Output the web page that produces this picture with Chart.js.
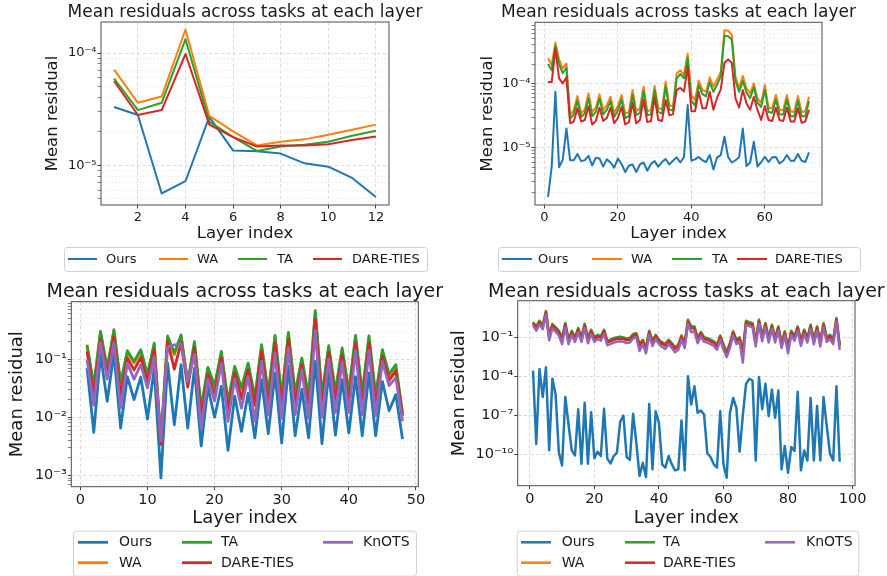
<!DOCTYPE html>
<html>
<head>
<meta charset="utf-8">
<script src="https://cdn.jsdelivr.net/npm/chart.js@4.4.1/dist/chart.umd.min.js"></script>
<style>
  html, body { margin: 0; padding: 0; background: #fff; }
  #wrap { position: relative; width: 887px; height: 576px; overflow: hidden; }
  canvas { position: absolute; }
</style>
</head>
<body>
<div id="wrap">
  <canvas id="c1" width="443" height="280" style="left:0;top:0"></canvas>
  <canvas id="c2" width="444" height="280" style="left:443px;top:0"></canvas>
  <canvas id="c3" width="443" height="296" style="left:0;top:280px"></canvas>
  <canvas id="c4" width="444" height="296" style="left:443px;top:280px"></canvas>
</div>
<script>
function range(a, b) { const out = []; for (let i = a; i <= b; i++) out.push(i); return out; }

// ---- panel 1 (12 layers) ----
const p1Layers = range(1, 12);
const p1Ours = [3.3e-5, 2.8e-5, 5.6e-6, 7.2e-6, 2.7e-5, 1.35e-5, 1.33e-5, 1.27e-5, 1.04e-5, 9.7e-6, 7.7e-6, 5.2e-6];
const p1WA   = [7.1e-5, 3.6e-5, 4.1e-5, 1.62e-4, 2.75e-5, 2.0e-5, 1.5e-5, 1.62e-5, 1.7e-5, 1.87e-5, 2.07e-5, 2.3e-5];
const p1TA   = [5.9e-5, 3.1e-5, 3.6e-5, 1.33e-4, 2.45e-5, 1.78e-5, 1.34e-5, 1.47e-5, 1.52e-5, 1.62e-5, 1.83e-5, 2.03e-5];
const p1Dare = [5.6e-5, 2.8e-5, 3.1e-5, 9.8e-5, 2.3e-5, 1.78e-5, 1.47e-5, 1.5e-5, 1.5e-5, 1.54e-5, 1.68e-5, 1.8e-5];
const p1XTicks = [2, 4, 6, 8, 10, 12];
const p1YTicks = [1e-5, 1e-4];
const p1YLabels = ['10⁻⁵', '10⁻⁴'];

// ---- panel 2 (72 layers) ----
const p2Layers = range(1, 72);
const p2Ours = [
  1.73e-6, 5.1e-6, 7.4e-5, 5.0e-6, 6.5e-6, 2.0e-5, 6.4e-6, 6.4e-6, 8.0e-6, 6.2e-6,
  6.4e-6, 7.5e-6, 5.3e-6, 7.0e-6, 6.8e-6, 5.1e-6, 6.6e-6, 5.9e-6, 4.9e-6, 6.8e-6,
  5.6e-6, 4.2e-6, 5.3e-6, 5.5e-6, 4.2e-6, 5.5e-6, 5.9e-6, 4.4e-6, 5.6e-6, 6.2e-6,
  5.1e-6, 6.0e-6, 6.7e-6, 5.5e-6, 6.3e-6, 7.1e-6, 5.9e-6, 7.2e-6, 4.6e-5, 6.3e-6,
  6.6e-6, 7.2e-6, 6.4e-6, 6.0e-6, 7.7e-6, 4.6e-6, 7.1e-6, 7.7e-6, 1.48e-5, 7.2e-6,
  5.9e-6, 6.4e-6, 7.1e-6, 2.0e-5, 5.2e-6, 5.9e-6, 1.24e-5, 5.1e-6, 6.0e-6, 7.2e-6,
  6.0e-6, 7.1e-6, 7.2e-6, 5.7e-6, 6.3e-6, 7.7e-6, 6.3e-6, 6.3e-6, 8.0e-6, 6.3e-6,
  6.0e-6, 8.5e-6];
const p2WA = [
  2.45e-4, 1.93e-4, 4.3e-4, 2.36e-4, 1.71e-4, 2.04e-4, 3.2e-5, 3.85e-5, 6.35e-5, 3.4e-5,
  3.9e-5, 7.0e-5, 3.6e-5, 4.2e-5, 6.8e-5, 3.85e-5, 4.6e-5, 6.2e-5, 3.5e-5, 4.45e-5,
  6.6e-5, 3.4e-5, 3.6e-5, 7.9e-5, 3.7e-5, 4.1e-5, 8.9e-5, 3.7e-5, 3.85e-5, 9.1e-5,
  4.2e-5, 3.9e-5, 1.06e-4, 4.6e-5, 4.4e-5, 1.43e-4, 1.6e-4, 1.35e-4, 2.9e-4, 6.6e-5,
  5.5e-5, 1.1e-4, 7.9e-5, 7.4e-5, 1.24e-4, 8.9e-5, 1.15e-4, 1.5e-4, 6.7e-4, 6.6e-4,
  5.6e-4, 1.27e-4, 8.4e-5, 1.3e-4, 8.4e-5, 7.0e-5, 1.0e-4, 5.85e-5, 5.0e-5, 9.4e-5,
  4.2e-5, 4.1e-5, 6.6e-5, 3.9e-5, 3.85e-5, 6.6e-5, 3.7e-5, 3.6e-5, 6.4e-5, 3.6e-5,
  3.7e-5, 6.2e-5];
const p2TA = [
  2.0e-4, 1.6e-4, 3.8e-4, 2.0e-4, 1.45e-4, 1.75e-4, 2.8e-5, 3.3e-5, 5.4e-5, 3.0e-5,
  3.4e-5, 5.9e-5, 3.1e-5, 3.6e-5, 5.8e-5, 3.3e-5, 3.9e-5, 5.3e-5, 3.0e-5, 3.8e-5,
  5.6e-5, 2.9e-5, 3.1e-5, 6.7e-5, 3.2e-5, 3.5e-5, 7.6e-5, 3.2e-5, 3.3e-5, 7.8e-5,
  3.6e-5, 3.4e-5, 9.0e-5, 3.9e-5, 3.8e-5, 1.2e-4, 1.4e-4, 1.2e-4, 2.5e-4, 5.4e-5,
  4.5e-5, 9.5e-5, 6.8e-5, 6.3e-5, 1.05e-4, 7.4e-5, 9.5e-5, 1.3e-4, 5.5e-4, 5.4e-4,
  4.8e-4, 1.1e-4, 7.4e-5, 1.1e-4, 7.2e-5, 5.9e-5, 8.7e-5, 5.0e-5, 4.3e-5, 8.0e-5,
  3.6e-5, 3.5e-5, 5.6e-5, 3.3e-5, 3.3e-5, 5.6e-5, 3.1e-5, 3.1e-5, 5.4e-5, 3.1e-5,
  3.1e-5, 5.3e-5];
const p2Dare = [
  1.05e-4, 1.05e-4, 3.5e-4, 1.2e-4, 1.0e-4, 1.25e-4, 2.4e-5, 2.55e-5, 4.1e-5, 2.55e-5,
  2.7e-5, 4.4e-5, 2.3e-5, 2.6e-5, 4.2e-5, 2.6e-5, 2.9e-5, 4.2e-5, 2.4e-5, 2.9e-5,
  4.3e-5, 2.3e-5, 2.5e-5, 5.0e-5, 2.4e-5, 2.7e-5, 5.5e-5, 2.5e-5, 2.6e-5, 6.0e-5,
  2.7e-5, 2.6e-5, 5.5e-5, 3.2e-5, 3.3e-5, 7.9e-5, 8.5e-5, 7.5e-5, 1.8e-4, 3.7e-5,
  3.7e-5, 7.4e-5, 4.1e-5, 4.1e-5, 7.4e-5, 3.9e-5, 6.0e-5, 8.1e-5, 2.1e-4, 2.36e-4,
  2.1e-4, 5.85e-5, 4.2e-5, 7.9e-5, 4.9e-5, 3.9e-5, 6.2e-5, 3.85e-5, 2.7e-5, 4.45e-5,
  2.7e-5, 2.6e-5, 4.2e-5, 2.7e-5, 2.6e-5, 4.2e-5, 2.55e-5, 2.55e-5, 4.1e-5, 2.45e-5,
  2.55e-5, 3.9e-5];
const p2XTicks = [0, 20, 40, 60];
const p2YTicks = [1e-5, 1e-4];
const p2YLabels = ['10⁻⁵', '10⁻⁴'];

// ---- panel 3 (48 layers) ----
const p3Layers = range(1, 48);
const p3Ours = [
  0.070, 0.0055, 0.119, 0.0187, 0.127, 0.0065, 0.050, 0.020, 0.049, 0.0093,
  0.068, 0.0009, 0.085, 0.0074, 0.080, 0.0065, 0.070, 0.0032, 0.0326, 0.010,
  0.034, 0.0027, 0.023, 0.0057, 0.026, 0.0044, 0.044, 0.0052, 0.057, 0.0036,
  0.075, 0.0048, 0.030, 0.0044, 0.091, 0.0035, 0.061, 0.0049, 0.044, 0.0054,
  0.050, 0.0048, 0.057, 0.0048, 0.041, 0.0129, 0.0244, 0.0042];
const p3WA = [
  0.165, 0.032, 0.28, 0.066, 0.30, 0.036, 0.13, 0.085, 0.135, 0.05,
  0.175, 0.0037, 0.235, 0.118, 0.245, 0.036, 0.185, 0.0135, 0.067, 0.032,
  0.126, 0.0175, 0.07, 0.03, 0.079, 0.0205, 0.165, 0.024, 0.238, 0.0215,
  0.27, 0.024, 0.097, 0.0215, 0.63, 0.0225, 0.158, 0.026, 0.145, 0.026,
  0.238, 0.024, 0.233, 0.0225, 0.135, 0.047, 0.068, 0.011];
const p3TA = [
  0.176, 0.035, 0.30, 0.070, 0.32, 0.039, 0.139, 0.091, 0.145, 0.054,
  0.188, 0.0039, 0.25, 0.127, 0.26, 0.039, 0.20, 0.0145, 0.072, 0.035,
  0.135, 0.0187, 0.075, 0.032, 0.085, 0.022, 0.176, 0.026, 0.255, 0.023,
  0.288, 0.026, 0.104, 0.023, 0.676, 0.024, 0.17, 0.028, 0.155, 0.028,
  0.255, 0.026, 0.25, 0.024, 0.145, 0.055, 0.08, 0.0118];
const p3Dare = [
  0.135, 0.023, 0.225, 0.055, 0.24, 0.023, 0.104, 0.065, 0.107, 0.041,
  0.145, 0.0034, 0.20, 0.067, 0.19, 0.033, 0.155, 0.0097, 0.055, 0.024,
  0.105, 0.0126, 0.057, 0.021, 0.065, 0.016, 0.135, 0.016, 0.19, 0.014,
  0.22, 0.016, 0.08, 0.014, 0.48, 0.015, 0.13, 0.018, 0.118, 0.018,
  0.19, 0.016, 0.19, 0.015, 0.11, 0.043, 0.062, 0.0105];
const p3Knots = [
  0.097, 0.016, 0.19, 0.045, 0.19, 0.0145, 0.085, 0.045, 0.08, 0.032,
  0.11, 0.004, 0.16, 0.175, 0.18, 0.041, 0.12, 0.0065, 0.045, 0.019,
  0.085, 0.0085, 0.045, 0.0143, 0.05, 0.0085, 0.091, 0.011, 0.127, 0.0095,
  0.155, 0.011, 0.065, 0.0095, 0.31, 0.01, 0.10, 0.012, 0.09, 0.012,
  0.14, 0.011, 0.14, 0.0105, 0.09, 0.035, 0.048, 0.0085];
const p3XTicks = [0, 10, 20, 30, 40, 50];
const p3YTicks = [1e-3, 1e-2, 1e-1];
const p3YLabels = ['10⁻³', '10⁻²', '10⁻¹'];

// ---- panel 4 (96 layers) ----
const p4Layers = range(1, 96);
const p4Ours = [
  2.7e-4, 6e-10, 3.6e-4, 2.5e-6, 4.9e-4, 2e-10, 6.3e-5, 3.9e-6, 1.3e-10, 1.3e-11,
  2.5e-6, 1.9e-8, 1.9e-10, 7.9e-11, 2.8e-7, 1.8e-11, 8.9e-7, 1.8e-11, 1.7e-7, 4.7e-11,
  1.5e-10, 7e-11, 3.1e-7, 4.4e-11, 1.9e-11, 7e-11, 1.3e-10, 3.1e-8, 9.3e-8, 5.9e-11,
  3.5e-11, 1.26e-7, 7.4e-10, 2e-12, 2.1e-11, 1.7e-12, 7.4e-7, 6.6e-12, 2e-7, 2.6e-8,
  1.6e-11, 8.9e-12, 7e-11, 1.6e-11, 5.5e-12, 6.6e-12, 3.9e-8, 5.5e-12, 1e-4, 6.6e-7,
  1.7e-5, 1.5e-7, 2.3e-7, 1.1e-7, 1.1e-10, 5.9e-11, 1.6e-11, 8.9e-12, 2e-7, 1.6e-11,
  1.5e-12, 1.5e-7, 2.1e-6, 3.6e-7, 1.5e-10, 1e-7, 2.6e-5, 6.3e-5, 4.7e-5, 3.2e-11,
  8.9e-5, 2.8e-7, 2.6e-5, 8.3e-8, 9.3e-6, 6.3e-8, 7.9e-6, 6.6e-12, 4.2e-10, 3.6e-12,
  3.5e-10, 1.7e-10, 6.3e-6, 5.5e-12, 1.9e-10, 3.2e-11, 2.1e-6, 3.2e-11, 5e-7, 3.2e-11,
  2.5e-6, 1.4e-8, 1.1e-10, 3.2e-11, 1.7e-5, 2.6e-11];
const p4WA = [
  1.45, 0.67, 1.8, 0.8, 10.5, 0.13, 1.02, 0.56, 0.3, 0.085,
  1.2, 0.063, 0.3, 0.095, 0.5, 0.095, 1.05, 0.085, 0.37, 0.095,
  0.15, 0.115, 0.37, 0.052, 0.063, 0.085, 0.095, 0.105, 0.095, 0.076,
  0.085, 0.17, 0.2, 0.026, 0.063, 0.014, 0.3, 0.052, 0.15, 0.063,
  0.039, 0.029, 0.063, 0.034, 0.016, 0.026, 0.13, 0.034, 2.2, 0.67,
  0.67, 0.085, 0.25, 0.095, 0.085, 0.063, 0.048, 0.026, 0.13, 0.026,
  0.007, 0.034, 0.28, 0.063, 0.095, 0.0079, 1.8, 1.45, 1.2, 0.048,
  2.2, 0.115, 1.2, 0.085, 0.9, 0.085, 0.67, 0.034, 0.28, 0.014,
  0.3, 0.115, 0.67, 0.052, 0.37, 0.085, 0.9, 0.063, 0.67, 0.048,
  1.2, 0.095, 0.15, 0.063, 2.95, 0.026];
const p4TA = [
  1.5, 0.7, 1.9, 0.84, 11, 0.14, 1.07, 0.59, 0.32, 0.089,
  1.26, 0.066, 0.32, 0.1, 0.52, 0.1, 1.1, 0.089, 0.39, 0.1,
  0.16, 0.12, 0.39, 0.055, 0.066, 0.089, 0.1, 0.11, 0.1, 0.08,
  0.089, 0.18, 0.21, 0.027, 0.066, 0.015, 0.32, 0.055, 0.16, 0.066,
  0.041, 0.031, 0.066, 0.036, 0.017, 0.027, 0.14, 0.036, 2.3, 0.7,
  0.7, 0.089, 0.26, 0.1, 0.089, 0.066, 0.05, 0.027, 0.14, 0.027,
  0.0074, 0.036, 0.29, 0.066, 0.1, 0.0083, 1.9, 1.5, 1.26, 0.05,
  2.3, 0.12, 1.26, 0.089, 0.95, 0.089, 0.7, 0.036, 0.29, 0.015,
  0.32, 0.12, 0.7, 0.055, 0.39, 0.089, 0.95, 0.066, 0.7, 0.05,
  1.26, 0.1, 0.16, 0.066, 3.1, 0.027];
const p4Dare = [
  1.15, 0.53, 1.45, 0.64, 8.0, 0.105, 0.8, 0.44, 0.24, 0.066,
  0.95, 0.05, 0.24, 0.075, 0.39, 0.075, 0.83, 0.066, 0.29, 0.075,
  0.12, 0.09, 0.29, 0.041, 0.05, 0.066, 0.075, 0.083, 0.075, 0.06,
  0.066, 0.135, 0.16, 0.02, 0.05, 0.011, 0.24, 0.041, 0.12, 0.05,
  0.031, 0.023, 0.05, 0.027, 0.013, 0.02, 0.105, 0.027, 1.7, 0.5,
  0.5, 0.066, 0.2, 0.075, 0.066, 0.05, 0.037, 0.02, 0.105, 0.02,
  0.0055, 0.027, 0.22, 0.05, 0.075, 0.006, 1.4, 1.1, 0.95, 0.037,
  1.7, 0.09, 0.95, 0.066, 0.7, 0.066, 0.53, 0.027, 0.22, 0.011,
  0.24, 0.09, 0.53, 0.041, 0.29, 0.066, 0.7, 0.05, 0.53, 0.037,
  0.95, 0.075, 0.12, 0.05, 2.3, 0.02];
const p4Knots = [
  0.8, 0.33, 1.0, 0.42, 5.5, 0.06, 0.5, 0.28, 0.14, 0.03,
  0.6, 0.03, 0.15, 0.045, 0.24, 0.045, 0.52, 0.035, 0.18, 0.045,
  0.075, 0.055, 0.18, 0.025, 0.03, 0.04, 0.045, 0.05, 0.045, 0.036,
  0.04, 0.085, 0.1, 0.009, 0.03, 0.006, 0.15, 0.022, 0.075, 0.03,
  0.018, 0.013, 0.03, 0.015, 0.007, 0.011, 0.065, 0.015, 1.1, 0.25,
  0.3, 0.035, 0.12, 0.045, 0.04, 0.03, 0.022, 0.011, 0.065, 0.011,
  0.003, 0.015, 0.14, 0.03, 0.045, 0.0011, 0.9, 0.75, 0.6, 0.02,
  1.1, 0.05, 0.6, 0.04, 0.45, 0.04, 0.33, 0.015, 0.14, 0.006,
  0.15, 0.055, 0.33, 0.022, 0.18, 0.04, 0.45, 0.03, 0.33, 0.02,
  0.6, 0.045, 0.075, 0.03, 1.6, 0.011];
const p4XTicks = [0, 20, 40, 60, 80, 100];
const p4YTicks = [1e-10, 1e-7, 1e-4, 1e-1];
const p4YLabels = ['10⁻¹⁰', '10⁻⁷', '10⁻⁴', '10⁻¹'];

const TITLE = 'Mean residuals across tasks at each layer';
const TEXT = '#1a1a1a';
const C_OURS = '#1f77b4', C_WA = '#ff7f0e', C_TA = '#2ca02c', C_DARE = '#d62728', C_KNOTS = '#9467bd';
const FONT = "'DejaVu Sans', sans-serif";

Chart.defaults.font.family = FONT;
Chart.defaults.color = TEXT;

// title, frame and matplotlib-style legend
const decor = {
  id: 'decor',
  afterDraw(chart, args, o) {
    const {ctx, chartArea: a} = chart;
    ctx.save();
    ctx.strokeStyle = '#4d4d4d';
    ctx.lineWidth = 1;
    ctx.strokeRect(a.left, a.top, a.right - a.left, a.bottom - a.top);

    ctx.fillStyle = TEXT;
    ctx.font = o.titleSize + 'px ' + FONT;
    ctx.textAlign = 'center';
    ctx.textBaseline = 'alphabetic';
    ctx.fillText(TITLE, (a.left + a.right) / 2, o.titleBase);

    const lg = o.legend;
    const [bx, by, bw, bh] = lg.box;
    ctx.beginPath();
    ctx.roundRect(bx + 0.5, by + 0.5, bw, bh, 3);
    ctx.fillStyle = 'rgba(255,255,255,0.85)';
    ctx.fill();
    ctx.strokeStyle = '#d0d0d0';
    ctx.lineWidth = 1;
    ctx.stroke();
    ctx.font = lg.size + 'px ' + FONT;
    ctx.textAlign = 'left';
    ctx.textBaseline = 'middle';
    chart.data.datasets.forEach((ds, i) => {
      const col = Math.floor(i / lg.rows.length), row = i % lg.rows.length;
      const [lx, tx] = lg.cols[col];
      const y = lg.rows[row];
      ctx.strokeStyle = ds.borderColor;
      ctx.lineWidth = ds.borderWidth;
      ctx.beginPath();
      ctx.moveTo(lx, y);
      ctx.lineTo(lx + lg.lineLen, y);
      ctx.stroke();
      ctx.fillStyle = TEXT;
      ctx.fillText(ds.label, tx, y + 0.5);
    });
    ctx.restore();
  }
};

function yTickList(min, max, majors, labels, minor) {
  const out = majors.map((v, i) => ({value: v, major: true, text: labels[i]}));
  if (minor) {
    for (let e = Math.floor(Math.log10(min)); e <= Math.ceil(Math.log10(max)); e++) {
      for (let k = 2; k <= 9; k++) {
        const v = k * Math.pow(10, e);
        if (v >= min && v <= max) out.push({value: v, major: false, text: ''});
      }
    }
  }
  return out.filter(t => t.value >= min && t.value <= max).sort((p, q) => p.value - q.value);
}

function makePanel(id, g) {
  const canvas = document.getElementById(id);
  const W = canvas.width, H = canvas.height;
  const xTitleLh = g.labelSize * 1.2;
  const xBottom = g.xTitleY + xTitleLh / 2;
  const yt = yTickList(g.yMin, g.yMax, g.yTicks, g.yLabels, g.minor);
  const orders = [4, 3, 2, 1, 0];

  const datasets = g.series.map((s, i) => ({
    label: s.label,
    data: g.layers.map((x, j) => ({x: x, y: s.data[j]})),
    borderColor: s.color,
    borderWidth: g.lineWidth,
    pointRadius: 0,
    tension: 0,
    borderJoinStyle: 'round',
    order: orders[i]
  }));

  return new Chart(canvas, {
    type: 'line',
    data: {datasets},
    plugins: [decor],
    options: {
      responsive: false,
      animation: false,
      devicePixelRatio: 1,
      layout: {padding: {left: 0, top: g.plot.t, right: W - g.plot.r, bottom: H - xBottom}},
      plugins: {
        legend: {display: false},
        title: {display: false},
        tooltip: {enabled: false},
        decor: {titleSize: g.titleSize, titleBase: g.titleBase, legend: g.legend}
      },
      scales: {
        x: {
          type: 'linear',
          min: g.xMin, max: g.xMax, bounds: 'data',
          afterBuildTicks: s => { s.ticks = g.xTicks.map(v => ({value: v, major: true})); },
          afterFit: s => { s.height = xBottom - g.plot.b; },
          ticks: {autoSkip: false, maxRotation: 0, padding: 1, color: TEXT, font: {size: g.tickSize}},
          grid: {color: '#d2d2d2', lineWidth: 0.8, tickLength: 3.5, tickColor: '#333', tickWidth: 0.9},
          border: {display: false, dash: [3.5, 2.5]},
          title: {display: true, text: 'Layer index', color: TEXT, font: {size: g.labelSize}, padding: 0}
        },
        y: {
          type: 'logarithmic',
          min: g.yMin, max: g.yMax, bounds: 'data',
          afterBuildTicks: s => { s.ticks = yt.map(t => Object.assign({}, t)); },
          afterFit: s => { s.width = g.plot.l; },
          ticks: {autoSkip: false, padding: 1, color: TEXT, font: {size: g.tickSize},
                  callback: (v, i, t) => t[i].text},
          grid: {
            color: c => (c.tick && c.tick.major) ? '#d2d2d2' : '#e9e9e9',
            lineWidth: 0.8, tickLength: 3.5, tickColor: '#333',
            tickWidth: c => (c.tick && c.tick.major) ? 0.9 : 0.6
          },
          border: {display: false, dash: c => (c.tick && c.tick.major) ? [3.5, 2.5] : [1.5, 2]},
          title: {display: true, text: 'Mean residual', color: TEXT, font: {size: g.labelSize},
                  padding: {top: g.yTitleX - g.labelSize * 0.6, bottom: 0}}
        }
      }
    }
  });
}

const fourSeries = (o, w, t, d) => [
  {label: 'Ours', data: o, color: C_OURS},
  {label: 'WA', data: w, color: C_WA},
  {label: 'TA', data: t, color: C_TA},
  {label: 'DARE-TIES', data: d, color: C_DARE}
];

makePanel('c1', {
  layers: p1Layers, series: fourSeries(p1Ours, p1WA, p1TA, p1Dare),
  xMin: 0.45, xMax: 12.55, xTicks: p1XTicks,
  yMin: 4.42e-6, yMax: 1.89e-4, yTicks: p1YTicks, yLabels: p1YLabels, minor: true,
  plot: {l: 101, r: 389, t: 22, b: 205},
  titleSize: 17, titleBase: 17, labelSize: 16.5, yTitleX: 53, xTitleY: 234, tickSize: 13, lineWidth: 2,
  legend: {box: [64, 247, 363, 24], rows: [259], cols: [[68, 106], [159, 197], [238, 277], [313, 352]], lineLen: 29, size: 13}
});

makePanel('c2', {
  layers: p2Layers, series: fourSeries(p2Ours, p2WA, p2TA, p2Dare),
  xMin: -2.55, xMax: 75.55, xTicks: p2XTicks,
  yMin: 1.29e-6, yMax: 8.9e-4, yTicks: p2YTicks, yLabels: p2YLabels, minor: true,
  plot: {l: 92, r: 379, t: 22.3, b: 205},
  titleSize: 17, titleBase: 17, labelSize: 16.5, yTitleX: 44.5, xTitleY: 234, tickSize: 13, lineWidth: 2,
  legend: {box: [55, 247, 362, 24], rows: [259], cols: [[59, 95], [149, 188], [229, 269], [294, 332]], lineLen: 30, size: 13}
});

makePanel('c3', {
  layers: p3Layers,
  series: fourSeries(p3Ours, p3WA, p3TA, p3Dare).concat([{label: 'KnOTS', data: p3Knots, color: C_KNOTS}]),
  xMin: -1.35, xMax: 50.35, xTicks: p3XTicks,
  yMin: 6.38e-4, yMax: 0.968, yTicks: p3YTicks, yLabels: p3YLabels, minor: true,
  plot: {l: 71.3, r: 418.3, t: 21.7, b: 206.7},
  titleSize: 19, titleBase: 17.3, labelSize: 18, yTitleX: 17.5, xTitleY: 238, tickSize: 14.5, lineWidth: 2.8,
  legend: {box: [73, 250.7, 343, 45], rows: [262.3, 282.7], cols: [[78, 119], [182, 221], [323, 363]], lineLen: 30, size: 14}
});

makePanel('c4', {
  layers: p4Layers,
  series: fourSeries(p4Ours, p4WA, p4TA, p4Dare).concat([{label: 'KnOTS', data: p4Knots, color: C_KNOTS}]),
  xMin: -3.75, xMax: 100.75, xTicks: p4XTicks,
  yMin: 3.6e-13, yMax: 67.6, yTicks: p4YTicks, yLabels: p4YLabels, minor: false,
  plot: {l: 74.7, r: 412, t: 20.7, b: 205.7},
  titleSize: 19, titleBase: 16.7, labelSize: 18, yTitleX: 16, xTitleY: 238, tickSize: 14.5, lineWidth: 2.5,
  legend: {box: [73.7, 250.7, 341.6, 45], rows: [262.3, 282.7], cols: [[78, 118.7], [182, 220], [322, 363]], lineLen: 30, size: 14}
});
</script>
</body>
</html>
